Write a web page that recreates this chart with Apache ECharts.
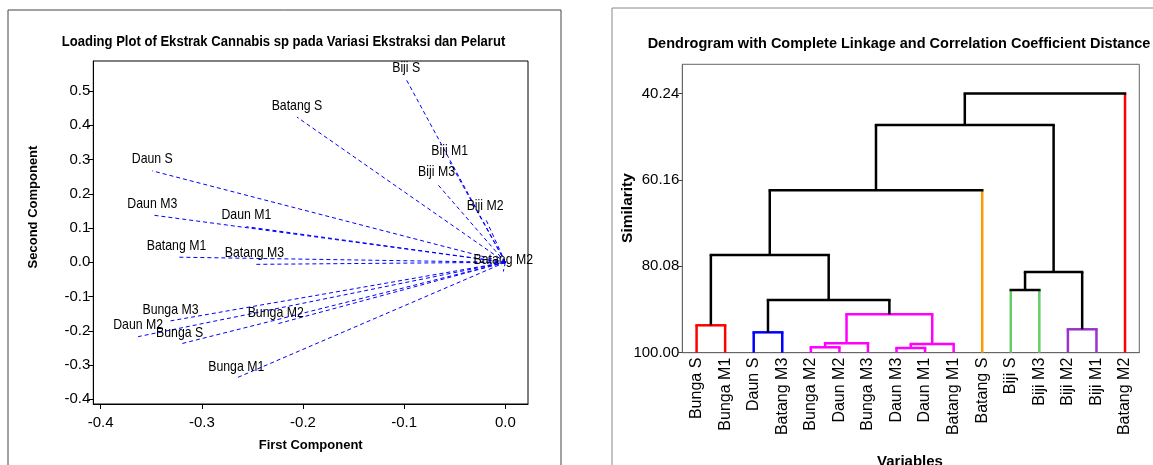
<!DOCTYPE html>
<html><head><meta charset="utf-8">
<script src="https://cdn.jsdelivr.net/npm/echarts@6/dist/echarts.min.js"></script>
<style>html,body{margin:0;padding:0;background:#fff;}#c{width:1153px;height:465px;}</style>
</head><body><div id="c"></div>
<script>
// ---------- Loading plot data ----------
const loadingNames = ['Biji S','Biji M1','Biji M3','Biji M2','Batang S','Daun S','Daun M3','Daun M1',
  'Batang M1','Batang M3','Batang M2','Bunga M3','Daun M2','Bunga S','Bunga M2','Bunga M1'];
const firstComponent  = [-0.098,-0.055,-0.068,-0.020,-0.206,-0.349,-0.349,-0.256,
  -0.325,-0.248,-0.002,-0.331,-0.363,-0.322,-0.227,-0.266];
const secondComponent = [0.534,0.293,0.231,0.130,0.424,0.267,0.138,0.104,
  0.015,-0.006,-0.027,-0.171,-0.217,-0.239,-0.181,-0.338];
const loadingXTicks = [-0.4,-0.3,-0.2,-0.1,0.0];
const loadingYTicks = [-0.4,-0.3,-0.2,-0.1,0.0,0.1,0.2,0.3,0.4,0.5];

// ---------- Dendrogram data ----------
const leafLabels = ['Bunga S','Bunga M1','Daun S','Batang M3','Bunga M2','Daun M2','Bunga M3','Daun M3',
  'Daun M1','Batang M1','Batang S','Biji S','Biji M3','Biji M2','Biji M1','Batang M2'];
// merges create nodes 16..30 (leaves are 0..15)
const mergeLeft       = [4, 7, 16, 17, 2, 13, 0, 18, 11, 20, 24, 22, 27, 28, 29];
const mergeRight      = [5, 8, 6, 9, 3, 14, 1, 19, 12, 23, 21, 25, 10, 26, 15];
const mergeSimilarity = [98.75, 98.92, 97.83, 98.00, 95.30, 94.60, 93.68, 91.15, 85.54, 87.85, 81.39, 77.47, 62.55, 47.50, 40.24];
const similarityTicks = [40.24, 60.16, 80.08, 100.00];

// ---------- styles (kept apart from data) ----------
const R='#ff0000', B='#0000ff', M='#ff00ff', O='#ff9900', G='#66cc66', P='#9933cc', K='#000000';
const nodeColor  = [R,R,B,B,M,M,M,M,M,M,O,G,G,P,P,R,  M,M,M,M,K,K,K,K,K,K,K,K,K,K,K];
const mergeColor = [M,M,M,M,B,P,R,M,K,K,K,K,K,K,K];

// build dendrogram segments from the linkage
const nodeX = leafLabels.map((_, i) => i);
const nodeH = leafLabels.map(() => 100);
const segs = [], segColors = [], segKind = [];
mergeLeft.forEach((a, m) => {
  const b = mergeRight[m], h = mergeSimilarity[m], id = leafLabels.length + m;
  nodeX[id] = (nodeX[a] + nodeX[b]) / 2; nodeH[id] = h;
  segs.push([nodeX[a], nodeH[a], nodeX[a], h]); segColors.push(nodeColor[a]); segKind.push('v');
  segs.push([nodeX[b], nodeH[b], nodeX[b], h]); segColors.push(nodeColor[b]); segKind.push('v');
  segs.push([nodeX[a], h, nodeX[b], h]); segColors.push(mergeColor[m]); segKind.push('h');
});

const loadingData = loadingNames.map((n, i) => [firstComponent[i], secondComponent[i], n]);

const chart = echarts.init(document.getElementById('c'), null, {renderer: 'canvas'});
const AR = 'Liberation Sans, Arial, sans-serif';

chart.setOption({
  animation: false,
  backgroundColor: '#fff',
  grid: [
    {left: 93.3, top: 61, width: 434.7, height: 343, show: true, borderColor: '#000', borderWidth: 1, containLabel: false},
    {left: 682.3, top: 64.3, width: 457, height: 288.4, show: true, borderColor: '#666', borderWidth: 1, containLabel: false}
  ],
  xAxis: [
    {type: 'value', gridIndex: 0, min: -0.4073, max: 0.0224,
      axisLine: {show: true, onZero: false, lineStyle: {color: '#000'}},
      axisTick: {show: true, length: 5, customValues: loadingXTicks, lineStyle: {color: '#000'}},
      axisLabel: {customValues: loadingXTicks, formatter: v => v.toFixed(1), fontSize: 15, color: '#000', fontFamily: AR, margin: 11},
      splitLine: {show: false}},
    {type: 'category', gridIndex: 1, data: leafLabels, boundaryGap: true,
      axisLine: {show: true, onZero: false, lineStyle: {color: '#666'}},
      axisTick: {show: false},
      axisLabel: {rotate: 90, interval: 0, fontSize: 16, color: '#000', fontFamily: AR, margin: 5},
      splitLine: {show: false}},
    {type: 'value', gridIndex: 1, min: -0.5, max: 15.5, show: false, splitLine: {show: false}}
  ],
  yAxis: [
    {type: 'value', gridIndex: 0, min: -0.4137, max: 0.5877,
      axisLine: {show: true, onZero: false, lineStyle: {color: '#000'}},
      axisTick: {show: true, length: 5, customValues: loadingYTicks, lineStyle: {color: '#000'}},
      axisLabel: {customValues: loadingYTicks, formatter: v => v.toFixed(1), fontSize: 15, color: '#000', fontFamily: AR, margin: 3},
      splitLine: {show: false}},
    {type: 'value', gridIndex: 1, inverse: true, min: 33.48, max: 100,
      axisLine: {show: true, onZero: false, lineStyle: {color: '#666'}},
      axisTick: {show: true, length: 4, customValues: similarityTicks, lineStyle: {color: '#444'}},
      axisLabel: {customValues: similarityTicks, formatter: v => v.toFixed(2), fontSize: 15, color: '#000', fontFamily: AR, margin: 3},
      splitLine: {show: false}}
  ],
  series: [
    {type: 'custom', xAxisIndex: 0, yAxisIndex: 0, data: loadingData, clip: false,
      encode: {x: 0, y: 1},
      renderItem: (params, api) => {
        const o = api.coord([0, 0]);
        const p = api.coord([api.value(0), api.value(1)]);
        return {type: 'group', children: [
          {type: 'line', shape: {x1: o[0], y1: o[1], x2: p[0], y2: p[1]},
            style: {stroke: '#0000ff', lineWidth: 1, lineDash: [4, 3]}},
          {type: 'text', x: p[0], y: p[1] - 4, scaleX: 0.82,
            style: {text: loadingData[params.dataIndex][2], align: 'center', verticalAlign: 'bottom',
              font: '15px ' + AR, fill: '#000'}}
        ]};
      }},
    {type: 'custom', xAxisIndex: 2, yAxisIndex: 1, data: segs, clip: false,
      encode: {x: [0, 2], y: [1, 3]},
      renderItem: (params, api) => {
        const p1 = api.coord([api.value(0), api.value(1)]);
        const p2 = api.coord([api.value(2), api.value(3)]);
        return {type: 'line', shape: {x1: p1[0], y1: p1[1], x2: p2[0], y2: p2[1]},
          style: {stroke: segColors[params.dataIndex], lineWidth: 2.5,
            lineCap: segKind[params.dataIndex] === 'h' ? 'square' : 'butt'}};
      }}
  ],
  graphic: [
    {type: 'rect', shape: {x: 8, y: 10, width: 553, height: 520}, style: {fill: 'none', stroke: '#444', lineWidth: 1}, silent: true},
    {type: 'rect', shape: {x: 612, y: 8, width: 600, height: 520}, style: {fill: 'none', stroke: '#888', lineWidth: 1}, silent: true},
    {type: 'text', x: 283.5, y: 42, scaleX: 0.933, style: {text: 'Loading Plot of Ekstrak Cannabis sp pada Variasi Ekstraksi dan Pelarut',
      align: 'center', verticalAlign: 'middle', font: 'bold 14px ' + AR, fill: '#000'}},
    {type: 'text', x: 33, y: 207, rotation: Math.PI / 2, style: {text: 'Second Component',
      align: 'center', verticalAlign: 'middle', font: 'bold 13px ' + AR, fill: '#000'}},
    {type: 'text', x: 310.7, y: 445, style: {text: 'First Component',
      align: 'center', verticalAlign: 'middle', font: 'bold 13px ' + AR, fill: '#000'}},
    {type: 'text', x: 899, y: 44, style: {text: 'Dendrogram with Complete Linkage and Correlation Coefficient Distance',
      align: 'center', verticalAlign: 'middle', font: 'bold 14.5px ' + AR, fill: '#000'}},
    {type: 'text', x: 628, y: 208, rotation: Math.PI / 2, style: {text: 'Similarity',
      align: 'center', verticalAlign: 'middle', font: 'bold 15.5px ' + AR, fill: '#000'}},
    {type: 'text', x: 910, y: 462, style: {text: 'Variables',
      align: 'center', verticalAlign: 'middle', font: 'bold 15px ' + AR, fill: '#000'}}
  ]
});
</script></body></html>
